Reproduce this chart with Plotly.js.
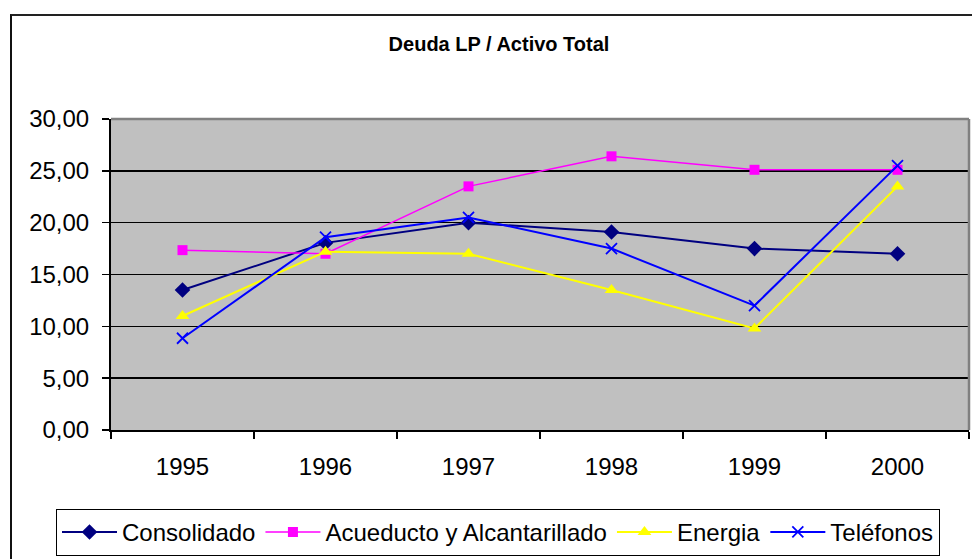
<!DOCTYPE html>
<html>
<head>
<meta charset="utf-8">
<script src="https://cdn.plot.ly/plotly-3.0.1.min.js"></script>
<style>
  html, body { margin: 0; padding: 0; background: #fff; overflow: hidden; }
  #chart { width: 972px; height: 559px; position: absolute; left: 0; top: 0; }
  #frame { position: absolute; left: 10px; top: 14px; width: 1000px; height: 600px;
           border-left: 2px solid #111; border-top: 2px solid #222; pointer-events: none; }
</style>
</head>
<body>
<div id="chart"></div>
<div id="frame"></div>
<script>
const years = ["1995", "1996", "1997", "1998", "1999", "2000"];
const consolidado = [13.5, 18.05, 20.0, 19.1, 17.5, 17.0];
const acueducto = [17.35, 17.0, 23.5, 26.4, 25.1, 25.1];
const energia = [11.0, 17.2, 17.0, 13.5, 9.8, 23.5];
const telefonos = [8.85, 18.6, 20.5, 17.5, 12.0, 25.5];
const seriesNames = ["Consolidado", "Acueducto y Alcantarillado", "Energia", "Teléfonos"];

const FONT = "Arial, 'Liberation Sans', sans-serif";

const traces = [
  { x: years, y: consolidado, name: seriesNames[0], type: "scatter", mode: "lines+markers",
    line: { color: "#000080", width: 2 },
    marker: { symbol: "diamond", size: 12, color: "#000080" } },
  { x: years, y: acueducto, name: seriesNames[1], type: "scatter", mode: "lines+markers",
    line: { color: "#FF00FF", width: 1.5 },
    marker: { symbol: "square", size: 10, color: "#FF00FF" } },
  { x: years, y: energia, name: seriesNames[2], type: "scatter", mode: "lines+markers",
    line: { color: "#FFFF00", width: 2 },
    marker: { symbol: "triangle-up", size: 12, color: "#FFFF00" } },
  { x: years, y: telefonos, name: seriesNames[3], type: "scatter", mode: "lines+markers",
    line: { color: "#0000FF", width: 2 },
    marker: { symbol: "x-thin-open", size: 11, color: "#0000FF", line: { color: "#0000FF", width: 1.8 } } }
];

const layout = {
  width: 972, height: 559,
  margin: { l: 111, r: 3, t: 119, b: 126, pad: 0 },
  paper_bgcolor: "rgba(0,0,0,0)",
  plot_bgcolor: "#C0C0C0",
  separators: ",.",
  font: { family: FONT, color: "#000" },
  showlegend: true,
  title: {
    text: "<b>Deuda LP / Activo Total</b>",
    font: { family: FONT, size: 20, color: "#000" },
    xref: "container", yref: "container",
    x: 499 / 972, xanchor: "center",
    y: 1 - 43.5 / 559, yanchor: "middle"
  },
  xaxis: {
    type: "category",
    range: [-0.5, 5.5],
    tickson: "boundaries",
    ticks: "outside", ticklen: 7, tickwidth: 1.5, tickcolor: "#000",
    showline: true, linecolor: "#000", linewidth: 2,
    showgrid: false, zeroline: false,
    tickfont: { family: FONT, size: 24, color: "#000" },
    ticklabelstandoff: 14,
    fixedrange: true
  },
  yaxis: {
    range: [0, 30],
    dtick: 5, tick0: 0,
    tickformat: ".2f",
    ticks: "outside", ticklen: 7, tickwidth: 1.5, tickcolor: "#000",
    showline: true, linecolor: "#000", linewidth: 2,
    showgrid: true, gridcolor: "#000", gridwidth: 1.5,
    zeroline: false,
    tickfont: { family: FONT, size: 24, color: "#000" },
    ticklabelstandoff: 8,
    fixedrange: true
  },
  legend: {
    orientation: "h",
    x: (56 - 111) / 858, xanchor: "left",
    y: (432.5 - 512) / 313.5, yanchor: "top",
    bordercolor: "#000", borderwidth: 1,
    bgcolor: "#fff",
    font: { family: FONT, size: 24, color: "#000" },
    itemwidth: 55
  },
  shapes: [
    { type: "line", xref: "paper", yref: "paper", x0: 0, x1: 1, y0: 1, y1: 1,
      line: { color: "#808080", width: 2.5 } },
    { type: "line", xref: "paper", yref: "paper", x0: 1, x1: 1, y0: 0, y1: 1,
      line: { color: "#808080", width: 2.5 } }
  ]
};

Plotly.newPlot("chart", traces, layout, { displayModeBar: false, staticPlot: true });
</script>
</body>
</html>
